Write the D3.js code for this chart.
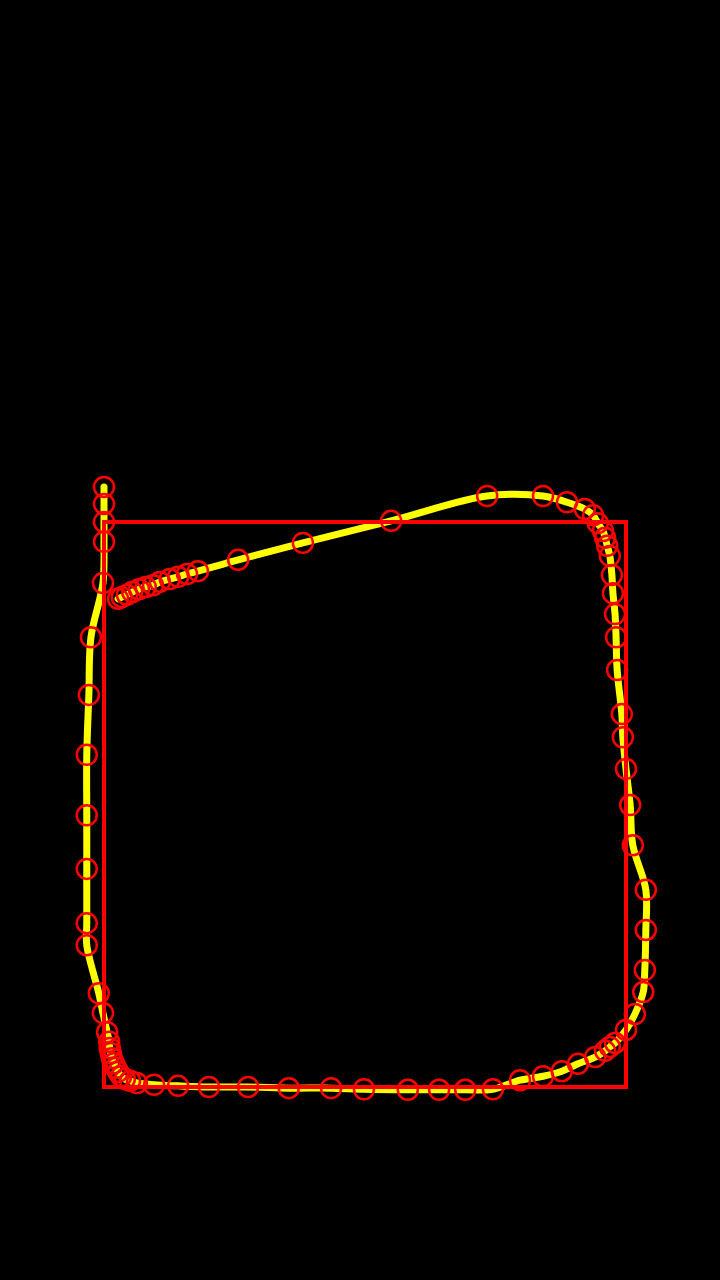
<!DOCTYPE html>
<html>
<head>
<meta charset="utf-8">
<script src="https://cdn.jsdelivr.net/npm/d3@7"></script>
<style>
html, body { margin: 0; padding: 0; background: #000; }
svg { display: block; }
</style>
</head>
<body>
<div id="chart"></div>
<script>
// x and y of each point, in frame units (frame = 0..100 on both axes)
var xs = [0, 0, 0, 0, -0.2, -2.5, -2.9, -3.3, -3.3, -3.3, -3.3, -3.3, -1.0, -0.2, 0.6,
  1.0, 1.1, 1.3, 1.5, 1.9, 2.3, 2.7, 3.3, 4.0, 5.0, 6.3, 9.6, 14.2, 20.1, 27.6,
  35.4, 43.5, 49.8, 58.2, 64.2, 69.2, 74.5, 79.7, 84.1, 87.7, 90.8, 94.1, 96.0, 96.9, 97.9,
  100.0, 101.7, 103.3, 103.6, 103.8, 103.8, 101.3, 100.8, 100.0, 99.4, 99.2, 98.3, 98.1, 97.9, 97.5,
  97.3, 96.9, 96.4, 96.0, 95.6, 94.6, 93.7, 92.1, 88.7, 84.1, 73.4, 55.0, 38.1, 25.7, 18.0,
  15.9, 14.2, 12.6, 10.7, 9.4, 8.0, 6.7, 5.4, 4.4, 3.4, 2.7];
var ys = [106.2, 103.2, 100.0, 96.5, 89.2, 79.6, 69.4, 58.8, 48.1, 38.6, 29.0, 25.1, 16.6, 13.1, 9.7,
  8.0, 6.9, 6.0, 5.1, 4.2, 3.4, 2.7, 1.9, 1.4, 1.1, 0.7, 0.4, 0.2, 0, 0,
  -0.2, -0.2, -0.4, -0.5, -0.5, -0.5, -0.4, 1.2, 1.9, 2.8, 4.1, 5.3, 6.4, 7.1, 7.8,
  10.1, 12.9, 16.8, 20.7, 27.8, 34.9, 42.8, 49.9, 56.3, 61.9, 66.0, 73.8, 79.6, 83.7, 87.4,
  90.6, 94.0, 95.8, 97.2, 98.4, 99.8, 101.2, 102.3, 103.5, 104.6, 104.6, 100.2, 96.3, 93.3, 91.3,
  90.8, 90.3, 89.9, 89.4, 88.8, 88.5, 88.1, 87.6, 87.1, 86.7, 86.4];
var frame = [0, 100];

var W = 720, H = 1280;
var svg = d3.select("#chart").append("svg")
    .attr("width", W)
    .attr("height", H);

var x = d3.scaleLinear().domain(frame).range([104, 626]);
var y = d3.scaleLinear().domain(frame).range([1087, 522]);

var pts = xs.map(function(d, i) { return [d, ys[i]]; });

var line = d3.line()
    .x(function(d) { return x(d[0]); })
    .y(function(d) { return y(d[1]); })
    .curve(d3.curveCatmullRom);

svg.append("path")
    .datum(pts)
    .attr("d", line)
    .attr("fill", "none")
    .attr("stroke", "#ffff00")
    .attr("stroke-width", 7)
    .attr("stroke-linecap", "round");

svg.append("rect")
    .attr("x", x(frame[0]))
    .attr("y", y(frame[1]))
    .attr("width", x(frame[1]) - x(frame[0]))
    .attr("height", y(frame[0]) - y(frame[1]))
    .attr("fill", "none")
    .attr("stroke", "#ff0000")
    .attr("stroke-width", 4);

svg.selectAll(".pt")
    .data(pts)
    .enter().append("circle")
    .attr("class", "pt")
    .attr("cx", function(d) { return x(d[0]); })
    .attr("cy", function(d) { return y(d[1]); })
    .attr("r", 10)
    .attr("fill", "none")
    .attr("stroke", "#ff0000")
    .attr("stroke-width", 2.5);
</script>
</body>
</html>
